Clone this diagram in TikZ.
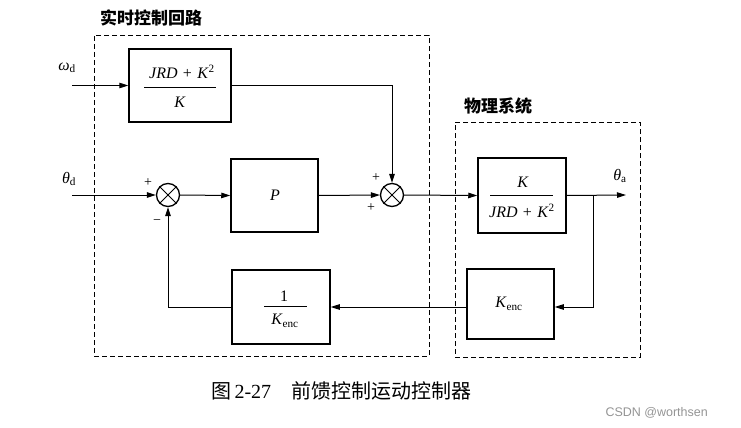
\documentclass[tikz,border=0pt]{standalone}
\usepackage{fontspec}
\setmainfont{Liberation Serif}
\newfontfamily\cjk{Noto Sans CJK SC}
\newfontfamily\csdnfont{Liberation Sans}
\usetikzlibrary{arrows.meta}
\begin{document}
\begin{tikzpicture}[x=1pt,y=-1pt,
  blk/.style={draw, line width=1.5pt, inner sep=0pt},
  conn/.style={line width=1pt},
  arr/.style={conn, -{Triangle[length=9pt,width=5.5pt]}},
  sumnode/.style={draw, circle, line width=1.3pt, minimum size=23pt, inner sep=0pt},
  frame/.style={draw, line width=0.9pt, dash pattern=on 5pt off 3pt, inner sep=0pt},
  mtxt/.style={font=\fontsize{16}{19}\selectfont, inner sep=0pt},
  sgn/.style={font=\fontsize{14}{16}\selectfont, inner sep=0pt},
  fbar/.style={line width=0.9pt},
  ttl/.style={font=\fontsize{17}{20}\selectfont\cjk\bfseries, inner sep=0pt, anchor=west},
]
\useasboundingbox (0,0) rectangle (741,428);

% dashed frames and their titles
\node[frame, minimum width=335pt, minimum height=321pt] (ctrl) at (261.5,195.5) {};
\node[frame, minimum width=185pt, minimum height=235pt] (phys) at (547.5,239.5) {};
\node[ttl] (ctrlttl) at (100,18) {实时控制回路};
\node[ttl] (physttl) at (464,106) {物理系统};

% blocks
\node[blk, minimum width=102pt, minimum height=73pt] (wbox) at (180,85.5) {};
\node[blk, minimum width=87pt, minimum height=73pt] (pbox) at (274.5,195.5) {};
\node[blk, minimum width=88pt, minimum height=75pt] (plant) at (522,195.5) {};
\node[blk, minimum width=87pt, minimum height=70pt] (enc) at (510.5,304) {};
\node[blk, minimum width=98pt, minimum height=74pt] (inv) at (281,307) {};

% block contents
\node[mtxt] (wnum) at (182,72) {\textit{JRD}\,\,+\,\,\textit{K}\textsuperscript{2}};
\draw[fbar] (144,87) -- (216,87);
\node[mtxt] (wden) at (180,102) {\textit{K}};

\node[mtxt] (ptxt) at (275,195) {\textit{P}};

\node[mtxt] (gnum) at (523,182) {\textit{K}};
\draw[fbar] (490,195) -- (553,195);
\node[mtxt] (gden) at (522,211) {\textit{JRD}\,\,+\,\,\textit{K}\textsuperscript{2}};

\node[mtxt] (etxt) at (509,304) {\textit{K}\textsubscript{enc}};

\node[mtxt] (inum) at (284,296) {1};
\draw[fbar] (264,306) -- (307,306);
\node[mtxt] (iden) at (285,321) {\textit{K}\textsubscript{enc}};

% summing junctions
\node[sumnode] (s1) at (168,195) {};
\node[sumnode] (s2) at (392,195) {};
\foreach \s in {s1,s2}
  \draw[conn] (\s.north west) -- (\s.south east) (\s.north east) -- (\s.south west);

% signs
\node[sgn] (p1) at (148,183) {+};
\node[sgn] (m1) at (157,222) {−};
\node[sgn] (p2) at (376,178) {+};
\node[sgn] (p3) at (371,208) {+};

% signal labels
\node[mtxt] (wlab) at (67,68) {\textit{ω}\textsubscript{d}};
\node[mtxt] (tlab) at (69,179) {\textit{θ}\textsubscript{d}};
\node[mtxt] (alab) at (620,176) {\textit{θ}\textsubscript{a}};

% connectors
\coordinate (win) at (72,85.5);
\coordinate (tin) at (72,195);
\coordinate (tout) at (626,195);
\coordinate (br) at (593,195);
\draw[arr] (win) -- (wbox.west);
\draw[arr] (tin) -- (s1.west);
\draw[arr] (s1.east) -- (pbox.west);
\draw[arr] (pbox.east) -- (s2.west);
\draw[arr] (wbox.east) -| (s2.north);
\draw[arr] (s2.east) -- (plant.west);
\draw[arr] (plant.east) -- (tout);
\draw[arr] (br) |- (enc.east |- inv.east);
\draw[arr] (enc.west |- inv.east) -- (inv.east);
\draw[arr] (inv.west) -| (s1.south);

% caption
\node[inner sep=0pt, anchor=west, font=\fontsize{20}{24}\selectfont] (cap) at (211,391)
  {{\cjk 图}\,2-27\hspace{20pt}{\cjk 前馈控制运动控制器}};
\node[inner sep=0pt, anchor=east, text=black!42, font=\fontsize{12.5}{15}\selectfont\csdnfont] (wm) at (708,413) {CSDN @worthsen};
\end{tikzpicture}
\end{document}
